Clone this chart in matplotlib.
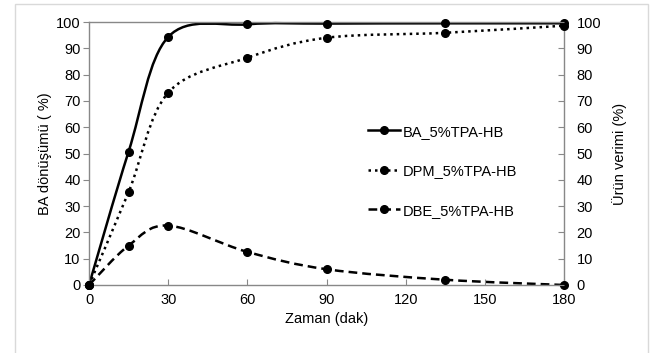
import numpy as np
import matplotlib
matplotlib.use("Agg")
import matplotlib.pyplot as plt
from matplotlib.path import Path
from matplotlib.patches import PathPatch, Rectangle
from matplotlib.lines import Line2D

plt.rcParams['font.family'] = ['Liberation Sans', 'DejaVu Sans']

time_min = [0, 15, 30, 60, 90, 135, 180]
ba_conv = [0, 50.7, 94.3, 99.1, 99.4, 99.5, 99.5]
dpm_yield = [0, 35.3, 73.1, 86.4, 94.0, 95.9, 98.6]
dbe_yield = [0, 15.0, 22.6, 12.6, 6.0, 2.0, 0.0]

series = [("BA_5%TPA-HB", ba_conv, "-"),
          ("DPM_5%TPA-HB", dpm_yield, (0, (1, 1.6))),
          ("DBE_5%TPA-HB", dbe_yield, (0, (3.5, 2)))]


def excel_smooth(x, y):
    # bezier through points, control points like excel smoothed lines
    p = np.column_stack([x, y]).astype(float)
    pts = [p[0]]
    codes = [Path.MOVETO]
    n = len(p)
    for i in range(n - 1):
        p0 = p[i - 1] if i > 0 else p[i]
        p1, p2 = p[i], p[i + 1]
        p3 = p[i + 2] if i + 2 < n else p[i + 1]
        c1 = p1 + (p2 - p0) / 6.0
        c2 = p2 - (p3 - p1) / 6.0
        pts += [c1, c2, p2]
        codes += [Path.CURVE4] * 3
    return Path(pts, codes)


fig = plt.figure(figsize=(6.51, 3.53), dpi=100)
fig.patches.append(Rectangle((15 / 651, -0.01), (648 - 15) / 651, (353 - 4) / 353 + 0.01,
                             transform=fig.transFigure, fill=False,
                             edgecolor="#d9d9d9", linewidth=1.0))
ax = fig.add_axes([89 / 651, 68 / 353, 475 / 651, 263 / 353])

for label, vals, ls in series:
    ax.add_patch(PathPatch(excel_smooth(time_min, vals), fill=False,
                           edgecolor="black", linewidth=1.8, linestyle=ls,
                           transform=ax.transData, clip_on=False))
    ax.plot(time_min, vals, linestyle="none", marker="o", markersize=5.5,
            color="black", clip_on=False, zorder=5)

ax.set_xlim(0, 180)
ax.set_ylim(0, 100)
ax.set_xticks(np.arange(0, 181, 30))
ax.set_yticks(np.arange(0, 101, 10))
ax.tick_params(axis="x", direction="in", length=4, color="#888888",
               labelsize=10.5, pad=6)
ax.tick_params(axis="y", direction="out", length=4, color="#888888",
               labelsize=10.5, pad=2)
for s in ax.spines.values():
    s.set_color("#888888")
    s.set_linewidth(1.0)
ax.set_xlabel("Zaman (dak)", fontsize=10.5, labelpad=3)
ax.set_ylabel("BA dönüşümü ( %)", fontsize=10.5, labelpad=3)

ax2 = ax.twinx()
ax2.set_ylim(0, 100)
ax2.set_yticks(np.arange(0, 101, 10))
ax2.tick_params(axis="y", direction="in", length=4, color="#888888",
                labelsize=10.5, pad=9)
for s in ax2.spines.values():
    s.set_visible(False)
ax2.set_ylabel("Ürün verimi (%)", fontsize=10.5, labelpad=8)

handles = [Line2D([], [], color="black", linewidth=1.8, linestyle=ls,
                  marker="o", markersize=5.5) for _, _, ls in series]
ax.legend(handles, [s[0] for s in series], loc="upper left",
          bbox_to_anchor=(0.56, 0.66), frameon=False, fontsize=10.5,
          handlelength=2.2, handletextpad=0.2, labelspacing=1.75)

fig.savefig("out.png", dpi=100)
